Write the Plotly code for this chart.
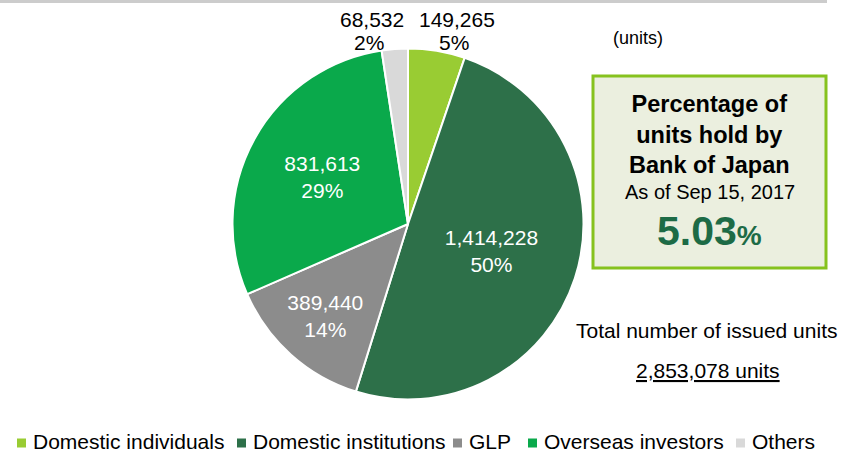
import plotly.graph_objects as go

categories = ["Domestic individuals", "Domestic institutions", "GLP", "Overseas investors", "Others"]
units = [149265, 1414228, 389440, 831613, 68532]
colors = ["#99cc33", "#2d7049", "#8c8c8c", "#0aa94b", "#d9d9d9"]
boj_pct = "5.03"
as_of = "As of Sep 15, 2017"

total = sum(units)
FONT = "Arial, Liberation Sans, sans-serif"
W, H = 845, 452

def px(x):
    return x / W

def py(y):
    return 1 - y / H

fig = go.Figure()
fig.add_trace(go.Pie(
    labels=categories,
    values=units,
    sort=False,
    direction="clockwise",
    rotation=0,
    marker=dict(colors=colors, line=dict(color="white", width=2)),
    texttemplate="%{value:,}<br>%{percent:.0%}",
    textposition=["none", "inside", "inside", "inside", "none"],
    insidetextorientation="horizontal",
    textfont=dict(family=FONT, size=21, color="white"),
    domain=dict(x=[px(232.5), px(583.5)], y=[py(399.5), py(48.5)]),
    hoverinfo="label+value+percent",
    showlegend=False,
))

annotations = []
# outside labels for the two small slices
for i, xc in [(4, 372), (0, 457)]:
    annotations.append(dict(
        x=px(xc), y=py(19), xref="paper", yref="paper",
        text=f"{units[i]:,}", showarrow=False,
        font=dict(family=FONT, size=21, color="black"),
        xanchor="center", yanchor="middle",
    ))
    annotations.append(dict(
        x=px(xc - 3), y=py(43), xref="paper", yref="paper",
        text=f"{round(units[i] / total * 100):.0f}%", showarrow=False,
        font=dict(family=FONT, size=21, color="black"),
        xanchor="center", yanchor="middle",
    ))

annotations += [
    dict(x=px(638), y=py(38), text="(units)", showarrow=False, xanchor="center", yanchor="middle",
         font=dict(family=FONT, size=18, color="black"), xref="paper", yref="paper"),
    dict(x=px(709.5), y=py(134), xref="paper", yref="paper", showarrow=False,
         xanchor="center", yanchor="middle",
         text="<b>Percentage of<br>units hold by<br>Bank of Japan</b>",
         font=dict(family=FONT, size=23.5, color="black")),
    dict(x=px(709.5), y=py(192), xref="paper", yref="paper", showarrow=False,
         xanchor="center", yanchor="middle",
         text=as_of, font=dict(family=FONT, size=20, color="black")),
    dict(x=px(709.5), y=py(231), xref="paper", yref="paper", showarrow=False,
         xanchor="center", yanchor="middle",
         text=f"<b>{boj_pct}<span style='font-size:28px'>%</span></b>",
         font=dict(family=FONT, size=41, color="#1d6b46")),
    dict(x=px(706.5), y=py(330), xref="paper", yref="paper", showarrow=False,
         xanchor="center", yanchor="middle",
         text="Total number of issued units", font=dict(family=FONT, size=21, color="black")),
    dict(x=px(708), y=py(370), xref="paper", yref="paper", showarrow=False,
         xanchor="center", yanchor="middle",
         text=f"<u>{total:,} units</u>", font=dict(family=FONT, size=21, color="black")),
]

shapes = [
    dict(type="line", xref="paper", yref="paper", x0=0, x1=px(827), y0=py(1.5), y1=py(1.5),
         line=dict(color="#cccccc", width=3)),
    dict(type="rect", xref="paper", yref="paper", x0=px(593), x1=px(826), y0=py(268), y1=py(76),
         fillcolor="#ebefdf", line=dict(color="#86c21e", width=3)),
]

# legend (manual, tight spacing like the reference)
legend_sq_x = [17, 237, 453, 528, 736]
for name, col, sx in zip(categories, colors, legend_sq_x):
    shapes.append(dict(type="rect", xref="paper", yref="paper",
                       x0=px(sx), x1=px(sx + 9), y0=py(447.5), y1=py(438.5),
                       fillcolor=col, line=dict(width=0)))
    annotations.append(dict(x=px(sx + 14), y=py(441), xref="paper", yref="paper",
                            text=name, showarrow=False, xanchor="left", yanchor="middle",
                            font=dict(family=FONT, size=21, color="black")))

fig.update_layout(
    width=W, height=H,
    margin=dict(l=0, r=0, t=0, b=0),
    paper_bgcolor="white", plot_bgcolor="white",
    font=dict(family=FONT, size=21, color="black"),
    showlegend=False,
    annotations=annotations,
    shapes=shapes,
)

fig.write_html("out.html", config={"displayModeBar": False},
               post_script="document.body.style.margin='0px';")
